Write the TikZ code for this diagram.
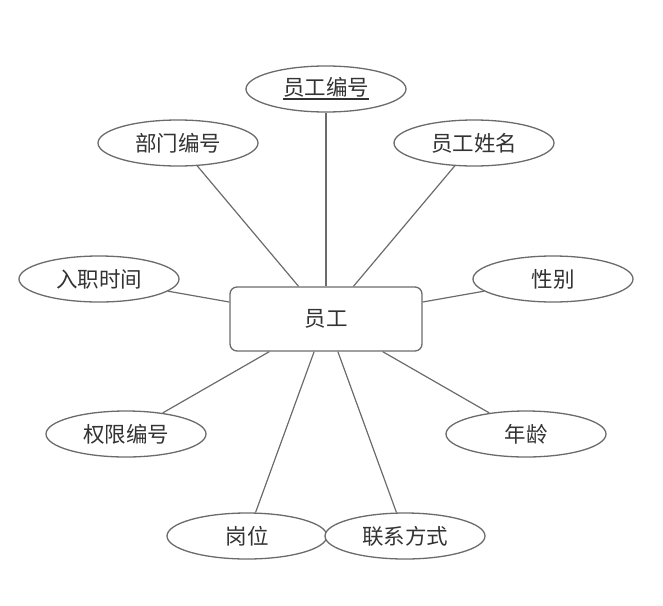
\documentclass[tikz,border=0pt]{standalone}
\usepackage{fontspec}
\setmainfont{Noto Sans CJK SC}
\usetikzlibrary{shapes.geometric}
\definecolor{edge}{HTML}{6B6B6B}
\definecolor{txt}{HTML}{333333}
\newcommand\myul[1]{\setbox0\hbox{#1}\rlap{\rule[-4.5pt]{\wd0}{2pt}}\box0}
\tikzset{
  attr/.style={ellipse, draw=edge, line width=1.3pt, minimum width=160pt, minimum height=46pt, inner sep=0pt, text=txt, font=\fontsize{21.5pt}{24pt}\selectfont, fill=white},
  ent/.style={rectangle, rounded corners=7pt, draw=edge, line width=1.3pt, minimum width=192pt, minimum height=64pt, inner sep=0pt, text=txt, font=\fontsize{21.5pt}{24pt}\selectfont, fill=white},
  link/.style={draw=edge, line width=1.2pt}
}
\begin{document}
\begin{tikzpicture}[x=1pt,y=-1pt]
\useasboundingbox (0,0) rectangle (663,605);
\node[ent] (emp) at (326,319) {员工};
\node[attr] (a1) at (326,89) {\myul{员工编号}};
\node[attr] (a2) at (178,143) {部门编号};
\node[attr] (a3) at (474,143) {员工姓名};
\node[attr] (a4) at (99,279) {入职时间};
\node[attr] (a5) at (553,279) {性别};
\node[attr] (a6) at (126,434) {权限编号};
\node[attr] (a7) at (526,434) {年龄};
\node[attr] (a8) at (247,536) {岗位};
\node[attr] (a9) at (405,536) {联系方式};
\foreach \n in {a1,a2,a3,a4,a5,a6,a7,a8,a9}
  \draw[link] (\n) -- (emp);
\end{tikzpicture}
\end{document}
